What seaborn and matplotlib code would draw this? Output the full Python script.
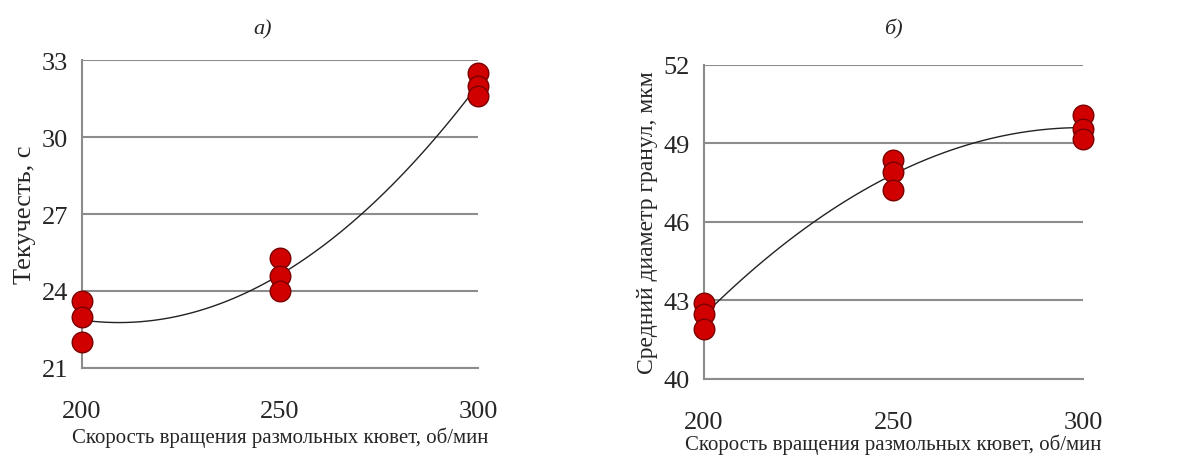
import matplotlib
matplotlib.use('Agg')
import matplotlib.pyplot as plt
import seaborn as sns
import pandas as pd

# data
speed = [200, 200, 200, 250, 250, 250, 300, 300, 300]
fluidity = [23.6, 23.0, 22.0, 25.3, 24.6, 24.0, 32.5, 32.0, 31.6]
diameter = [42.9, 42.5, 41.9, 48.35, 47.9, 47.2, 50.1, 49.55, 49.15]

x_ticks = [200, 250, 300]
fl_ticks = [21, 24, 27, 30, 33]
dm_ticks = [40, 43, 46, 49, 52]

xlabel = 'Скорость вращения размольных кювет, об/мин'

sns.set_style('white')
plt.rcParams['font.family'] = ['Liberation Serif', 'DejaVu Serif']

df = pd.DataFrame({'speed': speed, 'fluidity': fluidity, 'diameter': diameter})

fig = plt.figure(figsize=(11.79, 4.6), dpi=100)
ax1 = fig.add_axes([0.0696, 0.198, 0.3358, 0.669])
ax2 = fig.add_axes([0.597, 0.174, 0.3216, 0.683])

GRID = '#8c8c8c'

def draw(ax, col, yticks, title, tx, ty, ylabel, ylsize, xl_y):
    sns.regplot(data=df, x='speed', y=col, order=2, ci=None, scatter=False,
                truncate=True, ax=ax, line_kws={'color': '#222222', 'lw': 1})
    sns.scatterplot(data=df, x='speed', y=col, ax=ax, s=220, color='#d00000',
                    edgecolor='#7a0000', linewidth=1, clip_on=False, zorder=5)
    ax.set_xlim(x_ticks[0], x_ticks[-1])
    ax.set_ylim(yticks[0], yticks[-1])
    ax.set_xticks(x_ticks)
    ax.set_yticks(yticks)
    ax.yaxis.grid(True, color=GRID, lw=1.5)
    ax.set_axisbelow(True)
    for s in ['top', 'right']:
        ax.spines[s].set_visible(False)
    for s in ['left', 'bottom']:
        ax.spines[s].set_color(GRID)
        ax.spines[s].set_linewidth(1.5)
    ax.tick_params(axis='x', direction='out', length=8, width=1.5, color=GRID,
                   labelsize=19, pad=15)
    ax.tick_params(axis='y', direction='out', length=7, width=1.5, color=GRID,
                   labelsize=19, pad=3)
    ax.set_xlabel(xlabel, fontsize=15)
    ax.xaxis.set_label_coords(0.5, xl_y)
    ax.set_ylabel(ylabel, fontsize=ylsize, labelpad=4)
    ax.set_title(title, x=tx, y=ty, fontsize=16, style='italic', va='center')

draw(ax1, 'fluidity', fl_ticks, 'а)', 0.455, 1.074, 'Текучесть, с', 19, -0.19)
draw(ax2, 'diameter', dm_ticks, 'б)', 0.5, 1.089, 'Средний диаметр гранул, мкм', 17, -0.175)

fig.savefig('out.png', dpi=100)
